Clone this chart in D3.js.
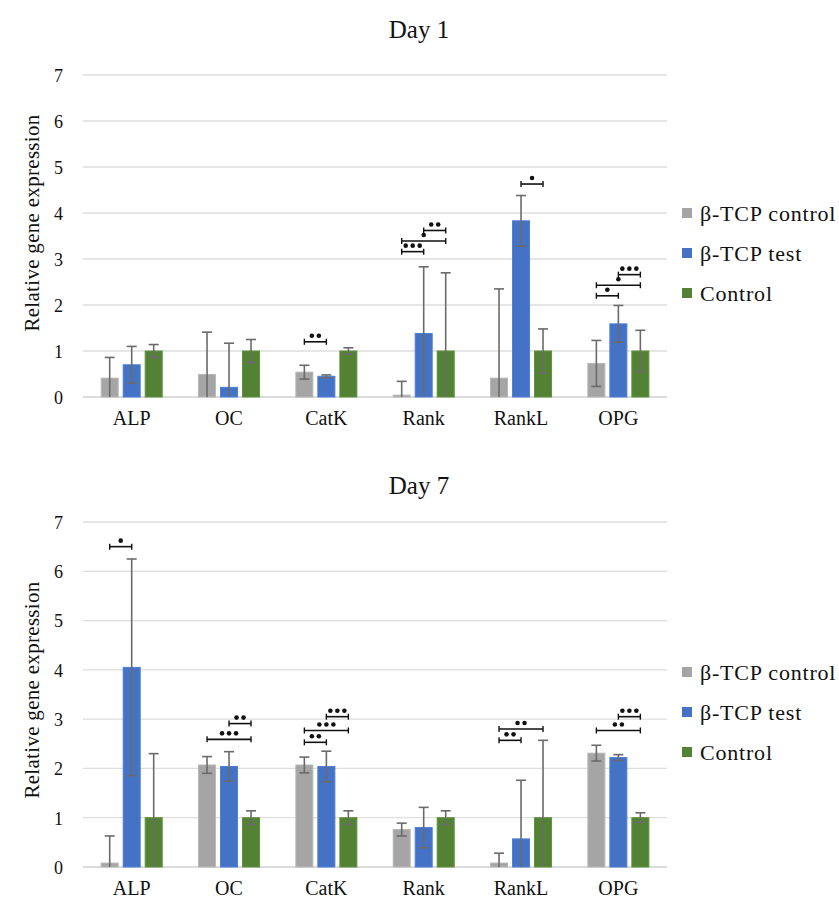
<!DOCTYPE html>
<html>
<head>
<meta charset="utf-8">
<script src="https://cdn.jsdelivr.net/npm/d3@7"></script>
<style>
  body { margin: 0; background: #fff; }
  svg text { font-family: "Liberation Serif", "Times New Roman", serif; fill: #111; }
</style>
</head>
<body>
<div id="chart"></div>
<script>
const genes = ["ALP", "OC", "CatK", "Rank", "RankL", "OPG"];
const seriesNames = ["β-TCP control", "β-TCP test", "Control"];
const seriesColors = ["#a5a5a5", "#4472c4", "#548235"];
const yTicks = [0, 1, 2, 3, 4, 5, 6, 7];

// Day 1 means and error bar half-lengths
const day1TcpControl    = [0.41, 0.49, 0.54, 0.04, 0.41, 0.73];
const day1TcpControlErr = [0.45, 0.92, 0.15, 0.30, 1.94, 0.50];
const day1TcpTest       = [0.70, 0.21, 0.45, 1.38, 3.83, 1.59];
const day1TcpTestErr    = [0.40, 0.96, 0.03, 1.45, 0.55, 0.40];
const day1Control       = [1.00, 1.00, 1.00, 1.00, 1.00, 1.00];
const day1ControlErr    = [0.14, 0.25, 0.07, 1.70, 0.48, 0.45];

// Day 7
const day7TcpControl    = [0.08, 2.07, 2.07, 0.76, 0.08, 2.31];
const day7TcpControlErr = [0.55, 0.17, 0.16, 0.13, 0.20, 0.16];
const day7TcpTest       = [4.05, 2.04, 2.04, 0.80, 0.57, 2.22];
const day7TcpTestErr    = [2.20, 0.30, 0.31, 0.41, 1.19, 0.06];
const day7Control       = [1.00, 1.00, 1.00, 1.00, 1.00, 1.00];
const day7ControlErr    = [1.30, 0.14, 0.14, 0.14, 1.57, 0.10];

// significance brackets: [gene, from series, to series, height, stars]
const day1Sig = [
  ["CatK", 0, 1, 1.20, 2],
  ["Rank", 0, 1, 3.16, 3],
  ["Rank", 0, 2, 3.39, 1],
  ["Rank", 1, 2, 3.62, 2],
  ["RankL", 1, 2, 4.63, 1],
  ["OPG", 0, 1, 2.20, 1],
  ["OPG", 0, 2, 2.43, 1],
  ["OPG", 1, 2, 2.66, 3]
];
const day7Sig = [
  ["ALP", 0, 1, 6.50, 1],
  ["OC", 0, 2, 2.59, 3],
  ["OC", 1, 2, 2.91, 2],
  ["CatK", 0, 1, 2.53, 2],
  ["CatK", 0, 2, 2.77, 3],
  ["CatK", 1, 2, 3.05, 3],
  ["RankL", 0, 1, 2.57, 2],
  ["RankL", 0, 2, 2.80, 2],
  ["OPG", 0, 2, 2.77, 2],
  ["OPG", 1, 2, 3.05, 3]
];

const width = 839, height = 908;
const serif = '"Liberation Serif", "Times New Roman", serif';
const svg = d3.select("#chart").append("svg")
  .attr("width", width).attr("height", height);

const x0 = d3.scaleBand().domain(genes).range([83, 667]);
const x1 = d3.scaleBand().domain([0, 1, 2]).range([18.2, 79.2]).paddingInner(0.227);

function drawPanel(opt) {
  const g = svg.append("g");
  const y = d3.scaleLinear().domain([0, 7]).range([opt.bottom, opt.top]);
  const rows = genes.map((gene, i) => ({
    gene,
    vals: opt.means.map((m, s) => ({ s, v: m[i], e: opt.errs[s][i] }))
  }));

  // title
  g.append("text").attr("x", 419).attr("y", opt.titleY)
    .attr("text-anchor", "middle").attr("font-family", serif)
    .style("font-size", "25px").text(opt.title);

  // grid
  g.selectAll(".grid").data(yTicks).enter().append("line")
    .attr("x1", 83).attr("x2", 667)
    .attr("y1", d => y(d)).attr("y2", d => y(d))
    .attr("stroke", d => d === 0 ? "#d0d0d0" : "#dedede").attr("stroke-width", 1.3);

  // y axis labels
  const yAxis = g.append("g").attr("transform", "translate(63,0)")
    .call(d3.axisLeft(y).tickValues(yTicks).tickFormat(d3.format("d")).tickSize(0).tickPadding(0))
    .attr("font-family", serif);
  yAxis.select(".domain").remove();
  yAxis.selectAll("text").style("font-size", "18px").attr("dy", "0.35em").attr("fill", "#222");

  g.append("text")
    .attr("transform", `translate(39,${opt.labelY}) rotate(-90)`)
    .attr("text-anchor", "middle").attr("font-family", serif)
    .style("font-size", "21px").style("letter-spacing", "0.3px")
    .text("Relative gene expression");

  // x axis labels
  const xAxis = g.append("g").attr("transform", `translate(0,${opt.bottom})`)
    .call(d3.axisBottom(x0).tickSize(0).tickPadding(14))
    .attr("font-family", serif);
  xAxis.select(".domain").remove();
  xAxis.selectAll("text").style("font-size", "20px").attr("fill", "#111");

  // bars
  const grp = g.selectAll(".grp").data(rows).enter().append("g")
    .attr("transform", d => `translate(${x0(d.gene)},0)`);
  grp.selectAll("rect").data(d => d.vals).enter().append("rect")
    .attr("x", d => x1(d.s)).attr("width", x1.bandwidth())
    .attr("y", d => y(d.v)).attr("height", d => y(0) - y(d.v))
    .attr("fill", d => seriesColors[d.s])
    .attr("stroke", d => d3.color(seriesColors[d.s]).brighter(0.3))
    .attr("stroke-width", 1);

  // error bars
  const eb = grp.selectAll(".eb").data(d => d.vals).enter().append("g")
    .attr("stroke", "#6b6b6b").attr("stroke-width", 1.6);
  const cx = d => x1(d.s) + x1.bandwidth() / 2;
  eb.append("line").attr("x1", cx).attr("x2", cx)
    .attr("y1", d => y(d.v + d.e)).attr("y2", d => y(Math.max(0, d.v - d.e)));
  eb.append("line").attr("x1", d => cx(d) - 5).attr("x2", d => cx(d) + 5)
    .attr("y1", d => y(d.v + d.e)).attr("y2", d => y(d.v + d.e));
  eb.filter(d => d.v - d.e > 0).append("line")
    .attr("x1", d => cx(d) - 5).attr("x2", d => cx(d) + 5)
    .attr("y1", d => y(d.v - d.e)).attr("y2", d => y(d.v - d.e));

  // significance brackets
  const sig = g.selectAll(".sig").data(opt.sig).enter().append("g")
    .attr("transform", d => `translate(${x0(d[0])},${y(d[3])})`);
  const bx = s => x1(s) + x1.bandwidth() / 2;
  sig.append("line").attr("x1", d => bx(d[1])).attr("x2", d => bx(d[2]))
    .attr("y1", 0).attr("y2", 0).attr("stroke", "#111").attr("stroke-width", 1.6);
  sig.append("line").attr("x1", d => bx(d[1])).attr("x2", d => bx(d[1]))
    .attr("y1", -3).attr("y2", 3).attr("stroke", "#111").attr("stroke-width", 1.4);
  sig.append("line").attr("x1", d => bx(d[2])).attr("x2", d => bx(d[2]))
    .attr("y1", -3).attr("y2", 3).attr("stroke", "#111").attr("stroke-width", 1.4);
  sig.selectAll("circle").data(d => d3.range(d[4]).map(k => ({
      cx: (bx(d[1]) + bx(d[2])) / 2 + (k - (d[4] - 1) / 2) * 7
    }))).enter().append("circle")
    .attr("cx", d => d.cx).attr("cy", -6).attr("r", 2.3).attr("fill", "#111");

  // legend
  const leg = g.selectAll(".leg").data(seriesNames).enter().append("g")
    .attr("transform", (d, i) => `translate(682,${opt.legendY + i * 40})`);
  leg.append("rect").attr("x", 0).attr("y", -5).attr("width", 10).attr("height", 10)
    .attr("fill", (d, i) => seriesColors[i]);
  leg.append("text").attr("x", 18).attr("y", 0).attr("dy", "0.35em")
    .attr("font-family", serif).style("font-size", "22px").style("letter-spacing", "0.8px")
    .text(d => d);
}

drawPanel({
  title: "Day 1", titleY: 38, top: 75, bottom: 397, labelY: 223, legendY: 213,
  means: [day1TcpControl, day1TcpTest, day1Control],
  errs: [day1TcpControlErr, day1TcpTestErr, day1ControlErr],
  sig: day1Sig
});
drawPanel({
  title: "Day 7", titleY: 494, top: 522, bottom: 867, labelY: 690, legendY: 672,
  means: [day7TcpControl, day7TcpTest, day7Control],
  errs: [day7TcpControlErr, day7TcpTestErr, day7ControlErr],
  sig: day7Sig
});
</script>
</body>
</html>
